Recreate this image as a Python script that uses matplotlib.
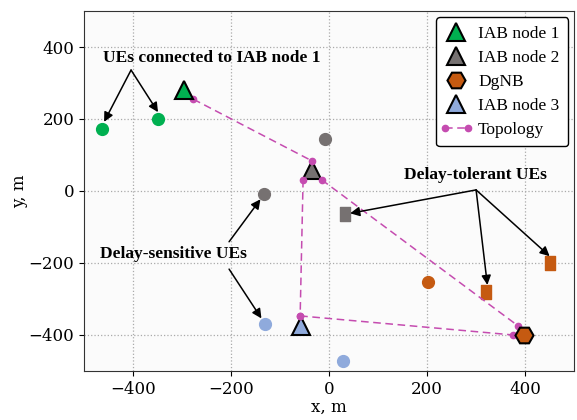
import numpy as np
import matplotlib
matplotlib.use("Agg")
from matplotlib import pyplot as plt
from matplotlib.path import Path
from matplotlib.legend_handler import HandlerLine2D

# colours
c_green = "#00b050"
c_gray = "#767171"
c_orange = "#c55a11"
c_blue = "#8faadc"
c_topo = "#c54cb0"

# nodes
iab1_xy = (-296, 281)
iab2_xy = (-34, 57)
iab3_xy = (-57, -375)
dgnb_xy = (397, -399)

# UEs
ue_green_x = [-463, -349]
ue_green_y = [172, 200]
ue_gray_x = [-8, -132]
ue_gray_y = [144, -8]
ue_gray_sq_x = [32]
ue_gray_sq_y = [-64]
ue_blue_x = [-130, 28]
ue_blue_y = [-369, -472]
ue_orange_x = [201]
ue_orange_y = [-253]
ue_orange_sq_x = [321, 451]
ue_orange_sq_y = [-281, -200]

# topology links (start -> end)
topo_x0 = [-277, -53, -15, -59]
topo_y0 = [255, 31, 31, -347]
topo_x1 = [-34, -59, 386, 376]
topo_y1 = [83, -347, -375, -400]

# annotations
ann_texts = ["UEs connected to IAB node 1", "Delay-sensitive UEs", "Delay-tolerant UEs"]
ann_pos = [(-240, 369), (-318, -175), (299, 44)]
arrows = [
    ((-404, 336), (-459, 192)),
    ((-404, 336), (-349, 219)),
    ((-204, -141), (-140, -23)),
    ((-204, -217), (-138, -354)),
    ((300, 3), (43, -62)),
    ((300, 3), (323, -261)),
    ((300, 3), (450, -181)),
]

plt.rcParams['font.family'] = 'DejaVu Serif'
plt.rcParams['font.size'] = 12
times = 'Liberation Serif'

rect = Path([(-0.7, -1), (0.7, -1), (0.7, 1), (-0.7, 1), (-0.7, -1)],
            [Path.MOVETO, Path.LINETO, Path.LINETO, Path.LINETO, Path.CLOSEPOLY])

fig = plt.figure(figsize=(5.77, 4.2), dpi=100)
ax = fig.add_axes([0.1456, 0.1167, 0.8494, 0.8571])
ax.set_facecolor("#fbfbfb")
ax.grid(True, ls=':', color='#aaaaaa', lw=0.9)
ax.set_axisbelow(True)

# topology
topo_lines = []
for i in range(len(topo_x0)):
    l, = ax.plot([topo_x0[i], topo_x1[i]], [topo_y0[i], topo_y1[i]], ls=(0, (5, 3)),
                 color=c_topo, lw=1.1, marker='o', ms=4.5, zorder=4)
    topo_lines.append(l)

# UEs
ms_ue = 8.5
ax.plot(ue_green_x, ue_green_y, 'o', color=c_green, ms=ms_ue, zorder=3)
ax.plot(ue_gray_x, ue_gray_y, 'o', color=c_gray, ms=ms_ue, zorder=3)
ax.plot(ue_gray_sq_x, ue_gray_sq_y, marker=rect, ls='none', color=c_gray, ms=10, zorder=3)
ax.plot(ue_blue_x, ue_blue_y, 'o', color=c_blue, ms=ms_ue, zorder=3)
ax.plot(ue_orange_x, ue_orange_y, 'o', color=c_orange, ms=ms_ue, zorder=3)
ax.plot(ue_orange_sq_x, ue_orange_sq_y, marker=rect, ls='none', color=c_orange, ms=10, zorder=3)

# nodes
h1, = ax.plot(*iab1_xy, '^', color=c_green, mec='k', mew=1.5, ms=13.5, zorder=5)
h2, = ax.plot(*iab2_xy, '^', color=c_gray, mec='k', mew=1.5, ms=13.5, zorder=3)
h3, = ax.plot(*dgnb_xy, 'H', color=c_orange, mec='k', mew=1.5, ms=13, zorder=5)
h4, = ax.plot(*iab3_xy, '^', color=c_blue, mec='k', mew=1.5, ms=13.5, zorder=3)

# annotations
for t, p in zip(ann_texts, ann_pos):
    ax.text(p[0], p[1], t, ha='center', va='center', fontweight='bold',
            family=times, fontsize=12.5, zorder=6)
for a, b in arrows:
    ax.annotate('', xy=b, xytext=a,
                arrowprops=dict(arrowstyle='-|>', color='k', lw=1.1,
                                mutation_scale=14, shrinkA=0, shrinkB=0), zorder=6)

ax.set_xlim(-500, 500)
ax.set_ylim(-500, 500)
ax.set_xticks([-400, -200, 0, 200, 400])
ax.set_yticks([-400, -200, 0, 200, 400])
ax.set_xlabel('x, m', labelpad=1)
ax.set_ylabel('y, m', labelpad=0)
for s in ax.spines.values():
    s.set_color('#333333')

leg = ax.legend([h1, h2, h3, h4, topo_lines[0]],
                ['IAB node 1', 'IAB node 2', 'DgNB', 'IAB node 3', 'Topology'],
                loc='upper right', numpoints=1,
                handler_map={topo_lines[0]: HandlerLine2D(numpoints=2, marker_pad=0)},
                prop={'family': times, 'size': 12.5}, framealpha=1,
                edgecolor='k', handlelength=1.3, borderpad=0.5,
                labelspacing=0.45, handletextpad=0.6, borderaxespad=0.35)
leg.get_frame().set_linewidth(1.0)

fig.savefig('out.png', dpi=100)
